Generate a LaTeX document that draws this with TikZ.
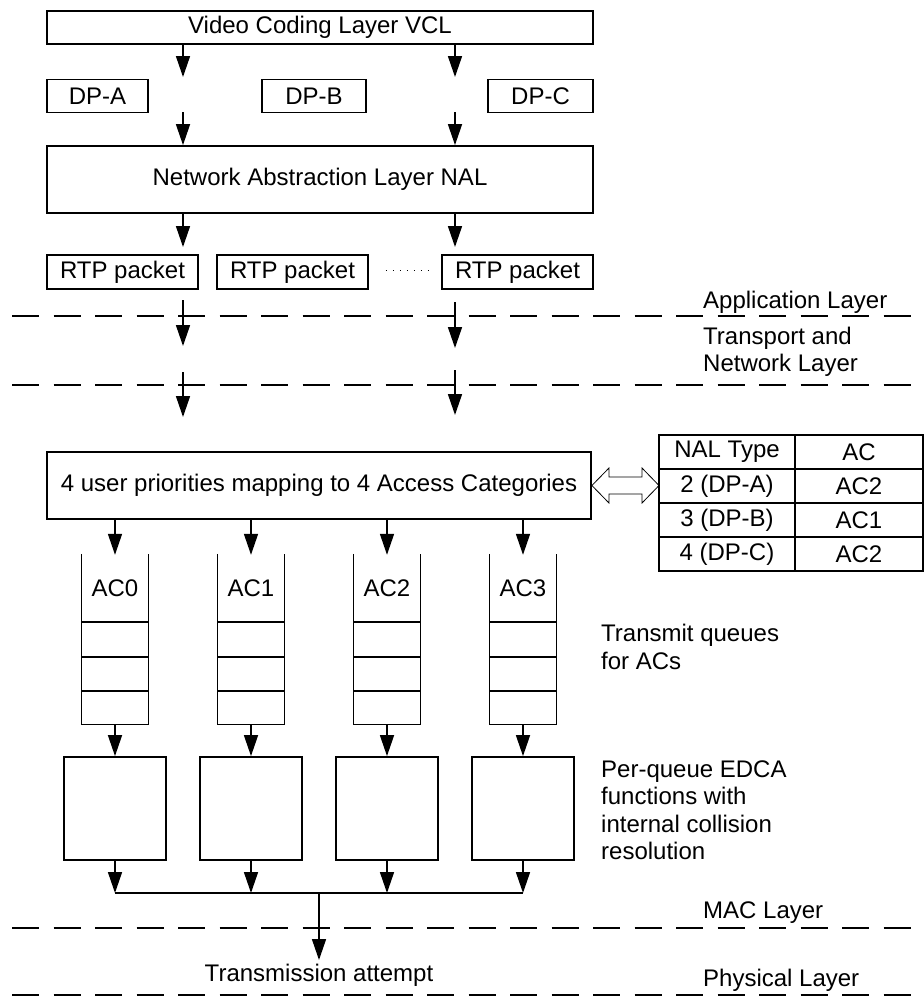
\documentclass[tikz,border=0pt]{standalone}
\usepackage{fontspec}
\setmainfont{Liberation Sans}
\usetikzlibrary{arrows.meta}
\begin{document}
\begin{tikzpicture}[x=1pt,y=-1pt,
  every node/.style={font=\fontsize{24}{27.5}\selectfont},
  box/.style={draw, line width=1.8pt, inner sep=0pt, rectangle},
  arr/.style={line width=1.6pt, -{Triangle[length=21pt,width=14pt]}},
  layer/.style={line width=1.6pt, dash pattern=on 27pt off 14.5pt},
  lbl/.style={anchor=west, inner sep=0pt, align=left},
  qline/.style={line width=1.1pt},
]
\useasboundingbox (0,0) rectangle (924,997);

% top part
\node[box, minimum width=546pt, minimum height=33pt] (vcl) at (320,27.5) {Video Coding Layer VCL};
\node[box, minimum width=101pt, minimum height=33pt] (dpa) at (97.5,96) {DP-A};
\node[box, minimum width=104pt, minimum height=33pt] (dpb) at (314,96) {DP-B};
\node[box, minimum width=105pt, minimum height=33pt] (dpc) at (540.5,96) {DP-C};
\node[box, minimum width=546pt, minimum height=67pt] (nal) at (320,179.5) {Network Abstraction Layer NAL};
\node[box, minimum width=151pt, minimum height=34pt] (rtp1) at (122.5,272) {RTP packet};
\node[box, minimum width=151pt, minimum height=34pt] (rtp2) at (292.5,272) {RTP packet};
\node[box, minimum width=151pt, minimum height=34pt] (rtp3) at (517.5,272) {RTP packet};
\draw[line width=0.9pt, dash pattern=on 1pt off 6pt, shorten <=17pt, shorten >=12pt]
  ([yshift=2pt]rtp2.east) -- ([yshift=2pt]rtp3.west);

\coordinate (a1) at (183,77);   \coordinate (a2) at (455,77);
\coordinate (b1) at (183,112);  \coordinate (b2) at (455,112);
\coordinate (c1) at (183,247);  \coordinate (c2) at (455,247);
\draw[arr] (vcl.south -| a1) -- (a1);
\draw[arr] (vcl.south -| a2) -- (a2);
\draw[arr] (b1) -- (nal.north -| b1);
\draw[arr] (b2) -- (nal.north -| b2);
\draw[arr] (nal.south -| c1) -- (c1);
\draw[arr] (nal.south -| c2) -- (c2);

% layer crossings
\coordinate (d1s) at (183,300); \coordinate (d1e) at (183,346);
\coordinate (d2s) at (455,302); \coordinate (d2e) at (455,348);
\coordinate (f1s) at (183,372); \coordinate (f1e) at (183,417);
\coordinate (f2s) at (455,370); \coordinate (f2e) at (455,415);
\draw[arr] (d1s) -- (d1e);
\draw[arr] (d2s) -- (d2e);
\draw[arr] (f1s) -- (f1e);
\draw[arr] (f2s) -- (f2e);

\draw[layer] (12,316) -- (912,316);
\draw[layer] (12,385) -- (912,385);
\draw[layer] (12,928) -- (912,928);
\draw[layer] (12,995) -- (912,995);

\node[lbl] (lapp) at (703,302) {Application Layer};
\node[lbl] (ltn) at (703,352) {Transport and\\Network Layer};
\node[lbl] (lmac) at (703,913) {MAC Layer};
\node[lbl] (lphy) at (703,980) {Physical Layer};

% mapping
\node[box, minimum width=544pt, minimum height=67pt] (map) at (319,485.5) {4 user priorities mapping to 4 Access Categories};
\draw[line width=0.8pt, fill=white] (map.east) -- (609,468) -- (609,477) -- (642,477) -- (642,468) -- (659,485.5)
  -- (642,503) -- (642,494) -- (609,494) -- (609,503) -- cycle;

% table
\node[box, minimum width=136pt, minimum height=34pt] (t11) at (727,452) {NAL Type};
\node[box, minimum width=128pt, minimum height=34pt] (t12) at (859,452) {AC};
\node[box, minimum width=136pt, minimum height=34pt] (t21) at (727,486) {2 (DP-A)};
\node[box, minimum width=128pt, minimum height=34pt] (t22) at (859,486) {AC2};
\node[box, minimum width=136pt, minimum height=34pt] (t31) at (727,520) {3 (DP-B)};
\node[box, minimum width=128pt, minimum height=34pt] (t32) at (859,520) {AC1};
\node[box, minimum width=136pt, minimum height=34pt] (t41) at (727,554) {4 (DP-C)};
\node[box, minimum width=128pt, minimum height=34pt] (t42) at (859,554) {AC2};

% queues and EDCA
\coordinate (bus) at (319,893);
\foreach \c/\n/\t in {115/0/AC0, 251/1/AC1, 387/2/AC2, 523/3/AC3} {
  \node[minimum width=67pt, minimum height=170pt, inner sep=0pt] (q\n) at (\c,639) {};
  \node (ql\n) at (\c,588) {\t};
  \draw[qline] (q\n.north west) -- (q\n.south west) -- (q\n.south east) -- (q\n.north east);
  \foreach \yy in {622,657,691} \draw[qline] (\c-33.5,\yy) -- (\c+33.5,\yy);
  \node[box, minimum width=102pt, minimum height=103pt] (e\n) at (\c,808.5) {};
  \draw[arr] (map.south -| q\n.north) -- ([yshift=-1pt]q\n.north);
  \draw[arr] (q\n.south) -- (e\n.north);
  \draw[arr] (e\n.south) -- (e\n.south |- bus);
}
\draw[line width=1.6pt] (e0.south |- bus) -- (e3.south |- bus);
\node (tx) at (319,975) {Transmission attempt};
\coordinate (txin) at (319,960);
\draw[arr] (bus) -- (txin);

\node[lbl] (ltq) at (601,647) {Transmit queues\\for ACs};
\node[lbl] (ledca) at (601,810) {Per-queue EDCA\\functions with\\internal collision\\resolution};
\end{tikzpicture}
\end{document}
